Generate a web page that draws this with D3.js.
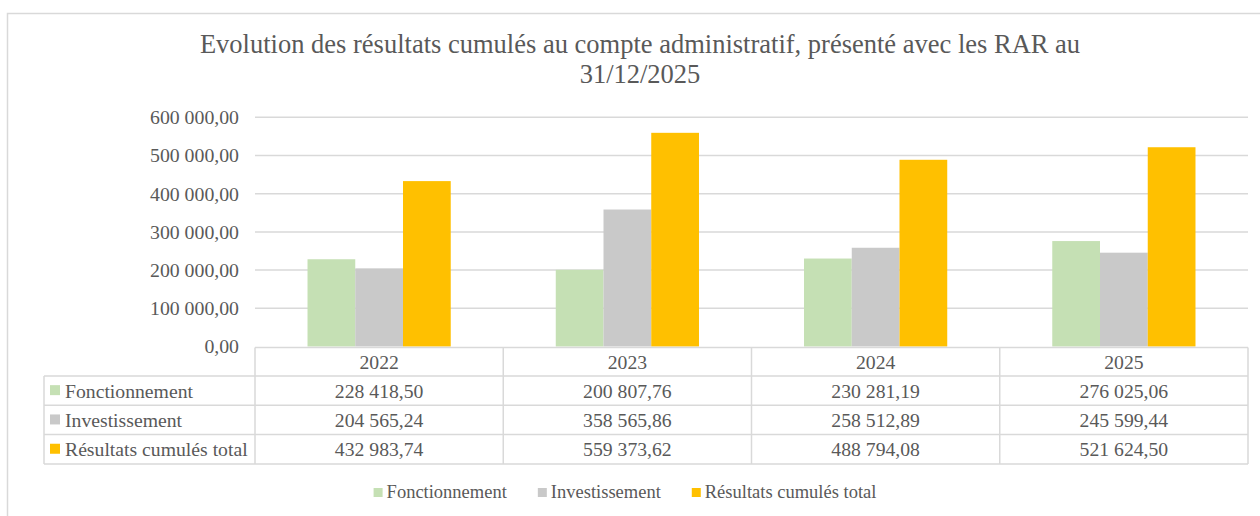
<!DOCTYPE html>
<html>
<head>
<meta charset="utf-8">
<script src="https://cdn.jsdelivr.net/npm/d3@7"></script>
<style>
  body { margin: 0; background: #fff; }
</style>
</head>
<body>
<div id="chart"></div>
<script>
// chart data
var years = ["2022", "2023", "2024", "2025"];
var seriesNames = ["Fonctionnement", "Investissement", "Résultats cumulés total"];
var fonctionnement = [228418.50, 200807.76, 230281.19, 276025.06];
var investissement = [204565.24, 358565.86, 258512.89, 245599.44];
var totalCumule = [432983.74, 559373.62, 488794.08, 521624.50];
var yTicks = [0, 100000, 200000, 300000, 400000, 500000, 600000];
var titleLines = ["Evolution des résultats cumulés au compte administratif, présenté avec les RAR au", "31/12/2025"];
var colors = ["#C5E0B4", "#C9C9C9", "#FFC000"];

var seriesValues = [fonctionnement, investissement, totalCumule];

var width = 1260, height = 516;
var gridColor = "#d9d9d9";
var fontStack = "'Liberation Serif', Tinos, 'Times New Roman', Times, serif";
var textColor = "#595959";

var fr = d3.formatLocale({decimal: ",", thousands: " ", grouping: [3], currency: ["", " €"]});
var fmt = fr.format(",.2f");

var svg = d3.select("#chart").append("svg")
    .attr("width", width)
    .attr("height", height);

// outer frame (runs off the right / bottom of the picture)
svg.append("rect")
    .attr("x", 7.5).attr("y", 13.5)
    .attr("width", 1270).attr("height", 520)
    .attr("fill", "none")
    .attr("stroke", gridColor)
    .attr("stroke-width", 1.5);

// title
svg.append("g").selectAll("text").data(titleLines)
    .enter().append("text")
    .attr("x", 640)
    .attr("y", (d, i) => 53 + i * 30)
    .attr("text-anchor", "middle")
    .attr("font-family", fontStack)
    .attr("font-size", 26.5)
    .attr("fill", textColor)
    .text(d => d);

var plotLeft = 255, plotRight = 1248;
var x0 = d3.scaleBand().domain(years).range([plotLeft, plotRight]).paddingInner(0).paddingOuter(0);
var x1 = d3.scaleBand().domain(seriesNames).range([0, x0.bandwidth()]).paddingInner(0).paddingOuter(1.1);
var y = d3.scaleLinear().domain([0, 600000]).range([346.5, 117.3]);

// gridlines
svg.append("g").selectAll("line").data(yTicks.slice(1))
    .enter().append("line")
    .attr("x1", plotLeft).attr("x2", plotRight)
    .attr("y1", d => y(d)).attr("y2", d => y(d))
    .attr("stroke", gridColor)
    .attr("stroke-width", 1.5);

// y axis labels
var yAxis = d3.axisLeft(y).tickValues(yTicks).tickSize(0).tickPadding(16).tickFormat(fmt);
var gy = svg.append("g")
    .attr("transform", "translate(" + plotLeft + ",0)")
    .call(yAxis)
    .attr("font-family", fontStack)
    .attr("font-size", 19.8);
gy.select(".domain").remove();
gy.selectAll("text").attr("fill", textColor);

// bars
var groups = svg.append("g").selectAll("g").data(years)
    .enter().append("g")
    .attr("transform", d => "translate(" + x0(d) + ",0)");

groups.selectAll("rect")
    .data((d, i) => seriesNames.map((s, k) => ({series: s, value: seriesValues[k][i], k: k})))
    .enter().append("rect")
    .attr("x", d => x1(d.series))
    .attr("width", x1.bandwidth())
    .attr("y", d => y(d.value))
    .attr("height", d => y(0) - y(d.value))
    .attr("fill", d => colors[d.k]);

// data table under the plot
var tableTop = 347.5, headerH = 28.5, rowH = 29.3, labelLeft = 44;
var rowsBottom = tableTop + headerH + rowH * seriesNames.length;
var table = svg.append("g")
    .attr("font-family", fontStack)
    .attr("font-size", 19.7);

// horizontal lines
table.append("line")
    .attr("x1", plotLeft).attr("x2", plotRight)
    .attr("y1", tableTop).attr("y2", tableTop);
d3.range(seriesNames.length + 1).forEach(function(i) {
    var yy = tableTop + headerH + i * rowH;
    table.append("line")
        .attr("x1", labelLeft).attr("x2", plotRight)
        .attr("y1", yy).attr("y2", yy);
});
// vertical lines
table.append("line")
    .attr("x1", labelLeft).attr("x2", labelLeft)
    .attr("y1", tableTop + headerH).attr("y2", rowsBottom);
years.concat(["end"]).forEach(function(yr, i) {
    var xx = i < years.length ? x0(yr) : plotRight;
    table.append("line")
        .attr("x1", xx).attr("x2", xx)
        .attr("y1", tableTop).attr("y2", rowsBottom);
});
table.selectAll("line")
    .attr("stroke", gridColor)
    .attr("stroke-width", 1.5);

// header years
table.selectAll(".yr").data(years)
    .enter().append("text")
    .attr("class", "yr")
    .attr("x", d => x0(d) + x0.bandwidth() / 2)
    .attr("y", tableTop + headerH / 2)
    .attr("dy", "0.35em")
    .attr("text-anchor", "middle")
    .attr("fill", textColor)
    .text(d => d);

// rows
seriesNames.forEach(function(s, k) {
    var cy = tableTop + headerH + rowH * k + rowH / 2;
    table.append("rect")
        .attr("x", 50).attr("y", cy - 5.5)
        .attr("width", 10).attr("height", 10)
        .attr("fill", colors[k]);
    table.append("text")
        .attr("x", 65)
        .attr("y", cy)
        .attr("dy", "0.35em")
        .attr("fill", textColor)
        .text(s);
    table.selectAll(".v" + k).data(seriesValues[k])
        .enter().append("text")
        .attr("class", "v" + k)
        .attr("x", (d, i) => x0(years[i]) + x0.bandwidth() / 2)
        .attr("y", cy)
        .attr("dy", "0.35em")
        .attr("text-anchor", "middle")
        .attr("fill", textColor)
        .text(d => fmt(d));
});

// legend
var legend = svg.append("g")
    .attr("font-family", fontStack)
    .attr("font-size", 18.5);
var items = legend.selectAll("g").data(seriesNames)
    .enter().append("g");
items.append("rect")
    .attr("width", 9).attr("height", 9)
    .attr("y", -10)
    .attr("fill", (d, i) => colors[i]);
items.append("text")
    .attr("x", 13)
    .attr("fill", textColor)
    .text(d => d);

var cursor = 0;
items.each(function() {
    var w = 13 + d3.select(this).select("text").node().getComputedTextLength();
    d3.select(this).attr("transform", "translate(" + cursor + ",0)");
    cursor += w + 31;
});
cursor -= 31;
legend.attr("transform", "translate(" + (625 - cursor / 2) + ",498)");
</script>
</body>
</html>
